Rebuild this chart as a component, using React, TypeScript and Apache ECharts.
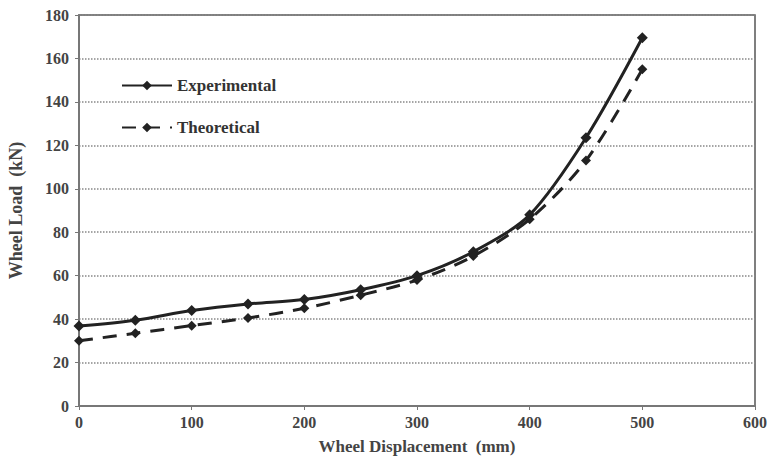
import React, { useEffect, useRef } from "react";
import * as echarts from "echarts";

const xValues = [0, 50, 100, 150, 200, 250, 300, 350, 400, 450, 500];
const experimental = [36.8, 39.5, 44, 47, 49, 53.5, 60, 71, 88, 123.5, 169.5];
const theoretical = [30, 33.5, 37, 40.5, 45, 51, 58, 69, 86, 113, 155];
const xTicks = [0, 100, 200, 300, 400, 500, 600];
const yTicks = [0, 20, 40, 60, 80, 100, 120, 140, 160, 180];

const serif = "'Liberation Serif', 'DejaVu Serif', serif";

export default function App() {
  const ref = useRef<HTMLDivElement>(null);
  useEffect(() => {
    if (!ref.current) return;
    const chart = echarts.init(ref.current, undefined, { renderer: "svg" });
    chart.setOption({
      animation: false,
      backgroundColor: "#fff",
      grid: {
        left: 79,
        right: 12,
        top: 15,
        bottom: 54,
        show: true,
        borderColor: "#555",
        borderWidth: 1.5,
        containLabel: false,
        outerBoundsMode: "none",
      },
      legend: {
        orient: "vertical",
        left: 116,
        top: 72,
        itemWidth: 50,
        itemHeight: 12,
        itemGap: 25,
        textStyle: { fontFamily: serif, fontSize: 17, color: "#333", fontWeight: "bold" },
        data: ["Experimental", "Theoretical"],
      },
      xAxis: {
        type: "value",
        min: xTicks[0],
        max: xTicks[xTicks.length - 1],
        interval: 100,
        name: "Wheel Displacement  (mm)",
        nameLocation: "middle",
        nameGap: 32,
        nameTextStyle: { fontFamily: serif, fontSize: 17, fontWeight: "bold", color: "#444" },
        axisLine: { lineStyle: { color: "#777", width: 2 } },
        axisTick: { show: true, length: 4, lineStyle: { color: "#777" } },
        axisLabel: { fontFamily: serif, fontSize: 16, fontWeight: "bold", color: "#444", margin: 8 },
        splitLine: { show: false },
      },
      yAxis: {
        type: "value",
        min: yTicks[0],
        max: yTicks[yTicks.length - 1],
        interval: 20,
        name: "Wheel Load  (kN)",
        nameLocation: "middle",
        nameGap: 54,
        nameTextStyle: { fontFamily: serif, fontSize: 18, fontWeight: "bold", color: "#444" },
        axisLine: { show: true, lineStyle: { color: "#777", width: 2 } },
        axisTick: { show: true, length: 4, lineStyle: { color: "#777" } },
        axisLabel: { fontFamily: serif, fontSize: 16, fontWeight: "bold", color: "#444", margin: 10 },
        splitLine: { show: true, lineStyle: { color: "#888", type: "dotted", width: 1.5 } },
      },
      series: [
        {
          name: "Experimental",
          type: "line",
          smooth: 0.3,
          data: xValues.map((x, i) => [x, experimental[i]]),
          symbol: "diamond",
          symbolSize: 11,
          itemStyle: { color: "#222" },
          lineStyle: { color: "#222", width: 3 },
        },
        {
          name: "Theoretical",
          type: "line",
          smooth: 0.3,
          data: xValues.map((x, i) => [x, theoretical[i]]),
          symbol: "diamond",
          symbolSize: 10,
          itemStyle: { color: "#222" },
          lineStyle: { color: "#222", width: 3, type: [14, 10] },
        },
      ],
    });
    return () => chart.dispose();
  }, []);
  return <div ref={ref} style={{ width: 767, height: 460, position: "absolute", left: 0, top: 0 }} />;
}
